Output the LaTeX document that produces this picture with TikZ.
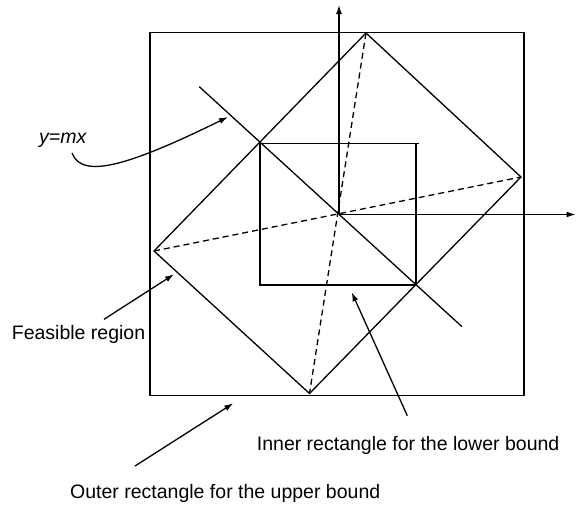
\documentclass[tikz,border=0pt]{standalone}
\usepackage{fontspec}
\setmainfont{Liberation Sans}
\usetikzlibrary{arrows.meta}
\begin{document}
\begin{tikzpicture}[x=1pt,y=-1pt,
  lbl/.style={inner sep=0pt, anchor=base west, font=\fontsize{19.5}{22}\selectfont},
  ln/.style={line width=1.3pt, line join=miter},
  dsh/.style={line width=1.3pt, dash pattern=on 6pt off 4pt},
  arr/.style={line width=1.3pt, -{Latex[length=9pt,width=6pt]}}]
\useasboundingbox (0,0) rectangle (576,506);
% outer rectangle
\draw[ln] (150,32.5) rectangle (524,395.5);
% inner rectangle
\draw[ln] (260,143.5) rectangle (416,285);
\draw[ln] (416,143.5) -- (418.5,143.5);
% key points
\coordinate (O) at (339,214.5);
\coordinate (T) at (366,33);
\coordinate (R) at (521,177);
\coordinate (B) at (309.5,393.5);
\coordinate (L) at (154,251);
\coordinate (ytop) at (339,5);
\coordinate (xend) at (575.5,214.5);
\coordinate (m1) at (199.3,86.7);
\coordinate (m2) at (462,326.7);
% feasible region
\draw[ln] (T) -- (R) -- (B) -- (L) -- cycle;
% line y=mx
\draw[ln] (m1) -- (m2);
% dashed diagonals
\draw[dsh] (T) -- (B);
\draw[dsh] (L) -- (R);
% axes
\draw[arr] (O) -- (ytop);
\draw[arr] (O) -- (xend);
% labels
\node[lbl] (ymx) at (39,143.5) {\itshape y=mx};
\node[lbl] (feas) at (11.7,339.5) {Feasible region};
\node[lbl] (inner) at (256.7,450) {Inner rectangle for the lower bound};
\node[lbl] (outer) at (70,498) {Outer rectangle for the upper bound};
% label arrows
\coordinate (c1) at (72,153);
\coordinate (c1t) at (228,117);
\draw[arr] (c1) .. controls (82,180) and (130,165) .. (c1t);
\coordinate (f1) at (104,319.3);
\coordinate (f1t) at (174,274.3);
\draw[arr] (f1) -- (f1t);
\coordinate (i1) at (407.3,415.7);
\coordinate (i1t) at (351.7,292.3);
\draw[arr] (i1) -- (i1t);
\coordinate (o1) at (135,466);
\coordinate (o1t) at (233.3,403.3);
\draw[arr] (o1) -- (o1t);
\end{tikzpicture}
\end{document}
